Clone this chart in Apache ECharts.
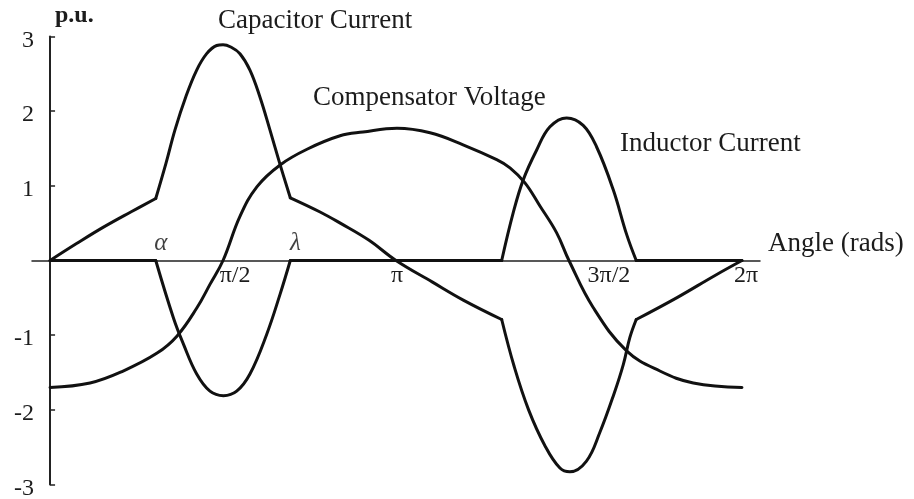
<!DOCTYPE html>
<html>
<head>
<meta charset="utf-8">
<script src="https://cdn.jsdelivr.net/npm/echarts@6/dist/echarts.min.js"></script>
<style>
  html, body { margin: 0; padding: 0; background: #fff; }
  #chart { width: 914px; height: 499px; }
</style>
</head>
<body>
<div id="chart"></div>
<script>
// Angles in degrees over one cycle; values in p.u.
// Firing angle alpha and extinction angle lambda (and their half-cycle twins).
const switchAngles = [55, 125, 235, 305];

const capAngles = [0, 14, 28, 42, 55,
  60.3, 65, 70.6, 76.3, 81.5, 86.7, 90, 94, 98.8, 104, 109.2, 114.4, 119.5, 125,
  140.5, 151, 166, 180, 199, 215, 235,
  241.5, 249, 257.5, 265.3, 270.5, 279, 286.1, 293.5, 298.3, 301.7, 305,
  326, 346, 360];
const capCurrent = [0, 0.23, 0.45, 0.65, 0.83,
  1.30, 1.75, 2.19, 2.55, 2.77, 2.88, 2.89, 2.86, 2.77, 2.55, 2.19, 1.75, 1.30, 0.84,
  0.65, 0.50, 0.27, 0, -0.29, -0.53, -0.79,
  -1.42, -2.00, -2.48, -2.78, -2.83, -2.69, -2.30, -1.78, -1.39, -1.03, -0.79,
  -0.50, -0.20, 0];

const indAngles = [0, 55,
  64.2, 69.4, 76.3, 83.2, 90.2, 97.1, 104, 112.7, 119.7, 125,
  235,
  241, 246.2, 253.2, 260.1, 268.8, 277.4, 284.4, 293, 300, 305,
  360];
const indCurrent = [0, 0,
  -0.77, -1.12, -1.52, -1.75, -1.81, -1.75, -1.52, -0.99, -0.45, 0,
  0,
  0.64, 1.08, 1.48, 1.79, 1.91, 1.81, 1.52, 0.95, 0.35, 0,
  0];

const voltAngles = [0, 20.8, 38, 55.7, 66.1, 76.5, 83.2, 90, 98.8, 107.7, 119.7, 133.7,
  150.9, 162.8, 180.5, 197.7, 214.9, 232.4, 239.3, 247.1, 254.9, 263.6, 270,
  282.6, 300, 317.3, 334.7, 360];
const voltage = [-1.70, -1.64, -1.48, -1.24, -1.01, -0.63, -0.32, 0, 0.59, 0.99, 1.28, 1.49,
  1.67, 1.72, 1.77, 1.71, 1.55, 1.35, 1.24, 1.04, 0.73, 0.37, 0,
  -0.63, -1.21, -1.48, -1.64, -1.70];

// Axis annotations
const tickAngles = [90, 180, 270, 360];
const tickNames = ['π/2', 'π', '3π/2', '2π'];
const markNames = ['α', 'λ'];
const markAngles = [55, 125];

const curveNames = ['Capacitor Current', 'Compensator Voltage', 'Inductor Current'];

const FONT = '"Liberation Serif", "Times New Roman", serif';
const INK = '#1c1c1c';

// Split a curve into pieces at the switching instants so the corners stay sharp
function pieces(angles, values, breaks) {
  const out = [];
  let cur = [];
  angles.forEach((a, i) => {
    cur.push([a, values[i]]);
    if (breaks.indexOf(a) >= 0 && cur.length > 1) {
      out.push(cur);
      cur = [[a, values[i]]];
    }
  });
  if (cur.length > 1) out.push(cur);
  return out;
}

function curveSeries(data, name) {
  return {
    type: 'line',
    name: name,
    data: data,
    smooth: 0.4,
    showSymbol: false,
    symbol: 'none',
    silent: true,
    lineStyle: { color: '#111', width: 3, cap: 'round', join: 'round' },
    z: 3
  };
}

const series = [];
pieces(capAngles, capCurrent, switchAngles).forEach(p => series.push(curveSeries(p, curveNames[0])));
pieces(indAngles, indCurrent, switchAngles).forEach(p => series.push(curveSeries(p, curveNames[2])));
series.push(curveSeries(voltAngles.map((a, i) => [a, voltage[i]]), curveNames[1]));

// alpha / lambda markers above the angle axis
series.push({
  type: 'scatter',
  symbolSize: 1,
  itemStyle: { color: 'rgba(0,0,0,0)' },
  silent: true,
  data: markAngles.map((a, i) => ({ name: markNames[i], value: [a, 0] })),
  label: {
    show: true,
    position: 'top',
    distance: 4,
    offset: [5, 0],
    formatter: '{b}',
    fontFamily: FONT,
    fontStyle: 'italic',
    fontSize: 25,
    color: '#111'
  },
  z: 4
});

// per-label horizontal nudges (px) for the angle ticks
const tickShift = { 90: 12, 180: 1, 270: 40, 360: 4 };
const rich = {};
tickAngles.forEach(a => {
  rich['s' + a] = {
    fontFamily: FONT, fontSize: 24, color: INK, lineHeight: 24,
    padding: [0, 0, 0, tickShift[a] * 2]
  };
});

// plot box geometry (px)
const GRID = { left: 32, right: 154, top: 36.5, bottom: 14.5 };
const plotH = 499 - GRID.top - GRID.bottom;
const plotW = 914 - GRID.left - GRID.right;
const xMin = -9.4, xMax = 369.4;

const chart = echarts.init(document.getElementById('chart'), null, { renderer: 'canvas' });
chart.setOption({
  backgroundColor: '#ffffff',
  animation: false,
  grid: Object.assign({ outerBoundsMode: 'none' }, GRID),
  xAxis: {
    type: 'value',
    min: xMin,
    max: xMax,
    // the angle axis sits on the zero line (middle of the -3..3 range)
    offset: -plotH / 2,
    splitLine: { show: false },
    axisTick: { show: false },
    axisLine: { onZero: false, lineStyle: { color: '#222', width: 1.5 } },
    axisLabel: {
      customValues: tickAngles,
      margin: 3,
      formatter: v => {
        const i = tickAngles.indexOf(v);
        return i >= 0 ? '{s' + v + '|' + tickNames[i] + '}' : '';
      },
      rich: rich
    }
  },
  yAxis: {
    type: 'value',
    min: -3,
    max: 3,
    interval: 1,
    // the value axis stands at angle 0
    offset: -plotW * (0 - xMin) / (xMax - xMin),
    splitLine: { show: false },
    axisLine: { onZero: false, lineStyle: { color: '#222', width: 2 } },
    axisTick: { inside: true, length: 5, lineStyle: { color: '#222', width: 1.5 } },
    axisLabel: {
      margin: 16,
      formatter: v => (v === 0 ? '' : '{n|' + v + '}'),
      rich: {
        n: { fontFamily: FONT, fontSize: 24, color: INK, lineHeight: 24, padding: [8, 0, 0, 0] }
      }
    }
  },
  graphic: [
    { type: 'text', x: 55, y: 16, style: { text: 'p.u.', font: 'bold 24px ' + FONT, fill: INK, verticalAlign: 'middle' } },
    { type: 'text', x: 218, y: 21, style: { text: curveNames[0], font: '27px ' + FONT, fill: INK, verticalAlign: 'middle' } },
    { type: 'text', x: 313, y: 98, style: { text: curveNames[1], font: '27px ' + FONT, fill: INK, verticalAlign: 'middle' } },
    { type: 'text', x: 620, y: 144, style: { text: curveNames[2], font: '27px ' + FONT, fill: INK, verticalAlign: 'middle' } },
    { type: 'text', x: 768, y: 244, style: { text: 'Angle (rads)', font: '27px ' + FONT, fill: INK, verticalAlign: 'middle' } }
  ],
  series: series
});
</script>
</body>
</html>
